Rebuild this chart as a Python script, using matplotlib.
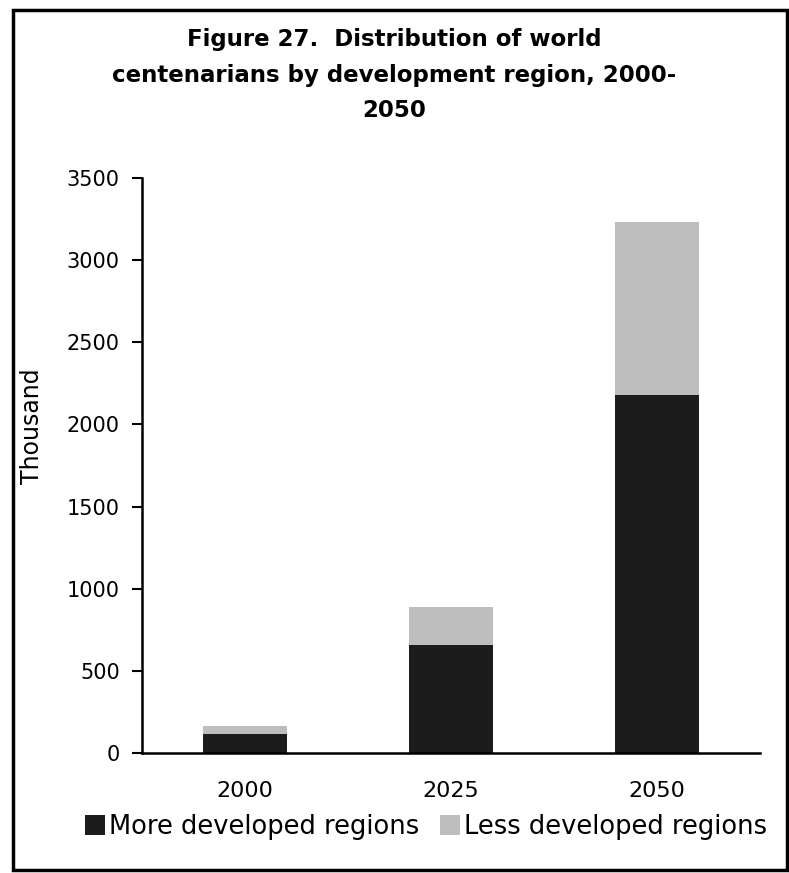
import matplotlib
matplotlib.use("Agg")
import matplotlib.pyplot as plt
from matplotlib.patches import Rectangle

# data (thousands)
years = ["2000", "2025", "2050"]
more_developed = [115, 655, 2180]
less_developed = [50, 235, 1050]
y_ticks = [0, 500, 1000, 1500, 2000, 2500, 3000, 3500]

dark = "#1c1c1c"
light = "#bebebe"

fig = plt.figure(figsize=(7.89, 8.73), dpi=100)
ax = fig.add_axes([0.18, 0.1375, 0.783, 0.6585])

x = range(len(years))
ax.bar(x, more_developed, width=0.41, color=dark, label="More developed regions")
ax.bar(x, less_developed, width=0.41, bottom=more_developed, color=light,
       label="Less developed regions")

ax.set_xlim(-0.5, 2.5)
ax.set_ylim(0, 3500)
ax.set_yticks(y_ticks)
ax.set_xticks(list(x))
ax.set_xticklabels(years)

ax.spines["top"].set_visible(False)
ax.spines["right"].set_visible(False)
ax.spines["left"].set_linewidth(1.8)
ax.spines["bottom"].set_linewidth(1.8)
ax.tick_params(axis="y", direction="out", length=7, width=1.5, pad=9, labelsize=15)
ax.tick_params(axis="x", length=0, pad=20, labelsize=16)
ax.set_ylabel("Thousand", fontsize=17)
ax.yaxis.set_label_coords(-0.158, 0.569)

fig.text(0.5, 0.968, "Figure 27.  Distribution of world\ncentenarians by development region, 2000-\n2050",
         ha="center", va="top", fontsize=16.5, fontweight="bold", linespacing=1.7)

fig.legend(loc="center", bbox_to_anchor=(0.54, 0.053), ncol=2, frameon=False,
           fontsize=18.5, handlelength=0.8, handleheight=0.8, handletextpad=0.15,
           columnspacing=0.8, borderaxespad=0)

# outer frame
fig.patches.append(Rectangle((0.016, 0.004), 0.982, 0.985, transform=fig.transFigure,
                             fill=False, edgecolor="black", linewidth=2.5))

fig.savefig("out.png", dpi=100)
